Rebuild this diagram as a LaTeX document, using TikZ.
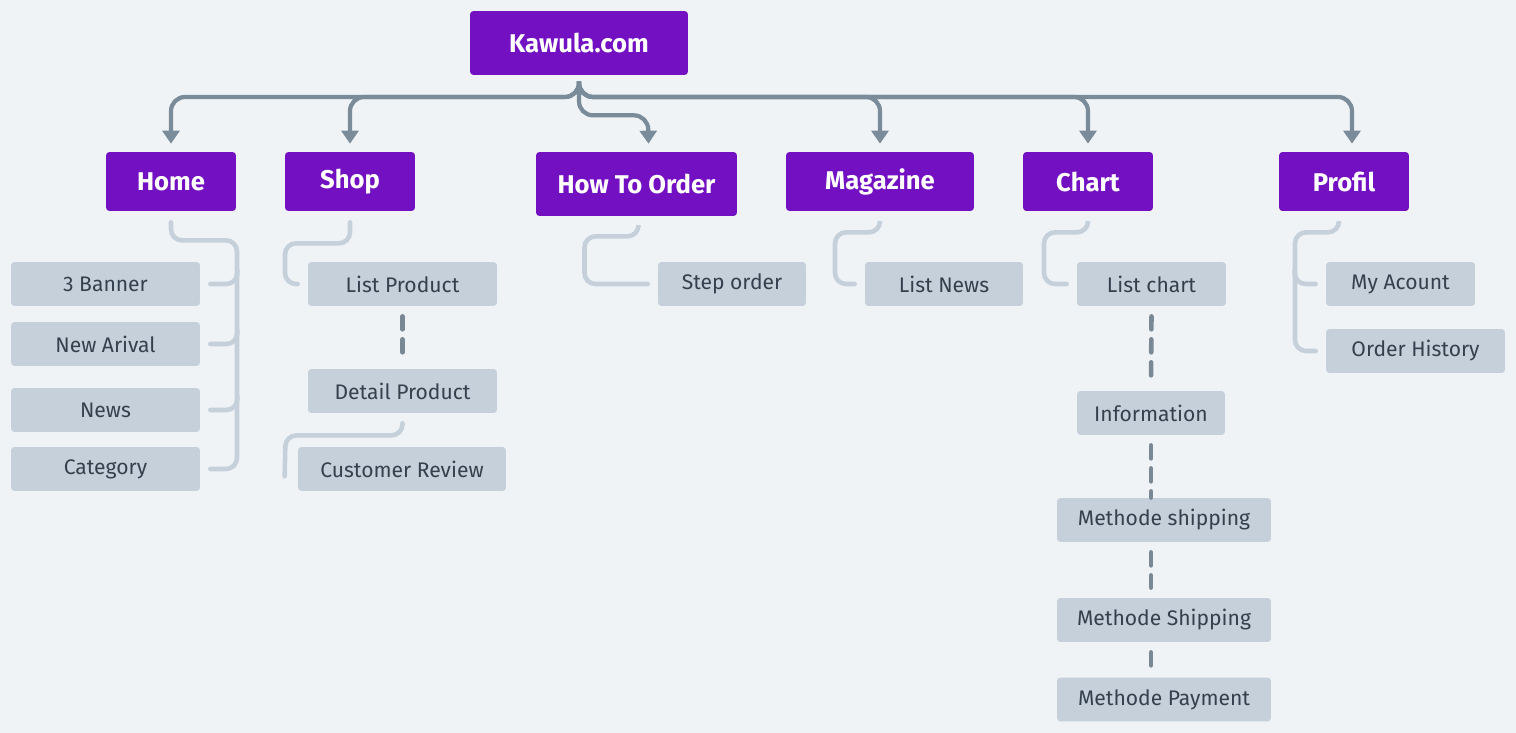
\documentclass[tikz,border=0pt]{standalone}
\usepackage{fontspec}
\setmainfont{Fira Sans}
\usetikzlibrary{arrows.meta,calc}

\definecolor{kbg}{HTML}{EFF3F6}
\definecolor{kpurple}{HTML}{7210C2}
\definecolor{kgray}{HTML}{C5D0DA}
\definecolor{ktext}{HTML}{34404D}
\definecolor{karrow}{HTML}{7A8B99}
\definecolor{kdash}{HTML}{7A8896}

\tikzset{
  topbox/.style={fill=kpurple, text=white, font=\bfseries\fontsize{14.6}{16}\selectfont,
    rounded corners=2pt, minimum height=1.18cm, inner sep=0pt},
  subbox/.style={fill=kgray, text=ktext, font=\fontsize{12}{14}\selectfont,
    rounded corners=2pt, minimum height=0.88cm, inner sep=0pt},
  arr/.style={draw=karrow, line width=2.4pt, rounded corners=0.28cm,
    -{Triangle[width=0.34cm,length=0.26cm]}},
  brace/.style={draw=kgray, line width=2.6pt, rounded corners=0.22cm, line cap=round},
  dots/.style={draw=kdash, line width=2.6pt, line cap=round, dash pattern=on 0.26cm off 0.2cm},
}

\begin{document}
\begin{tikzpicture}[x=0.02cm, y=-0.02cm]
			\fill[kbg] (0,0) rectangle (1516,733);
			\useasboundingbox (0,0) rectangle (1516,733);
			\coordinate (bus) at (0,97);
			% main level
			\node[topbox, minimum width=4.36cm, minimum height=1.28cm] (site) at (579,43) {Kawula.com};
			\node[topbox, minimum width=2.6cm] (home) at (171,181.5) {Home};
			\node[topbox, minimum width=2.6cm] (shop) at (350,181.5) {Shop};
			\node[topbox, minimum width=4.02cm, minimum height=1.28cm] (order) at (636.5,184) {How To Order};
			\node[topbox, minimum width=3.76cm] (mag) at (880,181.5) {Magazine};
			\node[topbox, minimum width=2.6cm] (chart) at (1088,181.5) {Chart};
			\node[topbox, minimum width=2.6cm] (profil) at (1344,181.5) {Profil};
			\draw[arr] ([yshift=-0.12cm]site.south) |- (home.north |- bus) -- ([yshift=0.16cm]home.north);
			\draw[arr] ([yshift=-0.12cm]site.south) |- (shop.north |- bus) -- ([yshift=0.16cm]shop.north);
			\draw[arr] ([yshift=-0.12cm]site.south) |- ++(69,34) -- ([xshift=0.24cm,yshift=0.16cm]order.north);
			\draw[arr] ([yshift=-0.12cm]site.south) |- (mag.north |- bus) -- ([yshift=0.16cm]mag.north);
			\draw[arr] ([yshift=-0.12cm]site.south) |- (chart.north |- bus) -- ([yshift=0.16cm]chart.north);
			\draw[arr] ([yshift=-0.12cm]site.south) |- ($(profil.north |- bus)+(8,0)$) -- ([xshift=0.16cm,yshift=0.16cm]profil.north);
			% home
			\node[subbox, minimum width=3.78cm] (banner) at (105.5,284) {3 Banner};
			\node[subbox, minimum width=3.78cm] (arival) at (105.5,344) {New Arival};
			\node[subbox, minimum width=3.78cm] (news) at (105.5,410) {News};
			\node[subbox, minimum width=3.78cm] (cat) at (105.5,469) {Category};
			\draw[brace] ([yshift=-0.22cm]home.south) |- ++(66,18) |- ([xshift=0.2cm]cat.east);
			\draw[brace] ([xshift=0.2cm]banner.east) -| ++(27,-14);
			\draw[brace] ([xshift=0.2cm]arival.east) -| ++(27,-14);
			\draw[brace] ([xshift=0.2cm]news.east) -| ++(27,-14);
			% shop
			\node[subbox, minimum width=3.78cm] (lprod) at (402.5,284) {List Product};
			\node[subbox, minimum width=3.78cm] (dprod) at (402.5,391) {Detail Product};
			\node[subbox, minimum width=4.16cm] (crev) at (402,469) {Customer Review};
			\draw[brace] ([yshift=-0.22cm]shop.south) |- ++(-65,21) |- ([xshift=-0.2cm]lprod.west);
			\draw[dots] ([yshift=-0.2cm]lprod.south) -- ([yshift=0.2cm]dprod.north);
			\draw[brace] ([yshift=-0.2cm]dprod.south) |- ++(-117,12) -- ([xshift=-0.26cm,yshift=0.3cm]crev.south west);
			% how to order
			\node[subbox, minimum width=2.96cm] (stepo) at (732,284) {Step order};
			\draw[brace] ([xshift=0.04cm,yshift=-0.2cm]order.south) |- ++(-54,10) |- ([xshift=-0.2cm]stepo.west);
			% magazine
			\node[subbox, minimum width=3.16cm] (lnews) at (944,284) {List News};
			\draw[brace] ([yshift=-0.22cm]mag.south) |- ++(-45,10) |- ([xshift=-0.2cm]lnews.west);
			% chart
			\node[subbox, minimum width=2.98cm] (lchart) at (1151.5,284) {List chart};
			\node[subbox, minimum width=2.96cm] (info) at (1151,413) {Information};
			\node[subbox, minimum width=4.28cm] (mship) at (1164,520) {Methode shipping};
			\node[subbox, minimum width=4.28cm] (mship2) at (1164,620) {Methode Shipping};
			\node[subbox, minimum width=4.28cm] (mpay) at (1164,699.5) {Methode Payment};
			\draw[brace] ([yshift=-0.22cm]chart.south) |- ++(-44,10) |- ([xshift=-0.2cm]lchart.west);
			\draw[dots] ([yshift=-0.2cm]lchart.south) -- ([yshift=0.2cm]info.north);
			\draw[dots] ([yshift=-0.2cm]info.south) -- (info.south |- mship.north);
			\draw[dots] ([xshift=-0.26cm,yshift=-0.2cm]mship.south) -- ([xshift=-0.26cm,yshift=0.2cm]mship2.north);
			\draw[dots] ([xshift=-0.26cm,yshift=-0.2cm]mship2.south) -- ([xshift=-0.26cm,yshift=0.2cm]mpay.north);
			% profil
			\node[subbox, minimum width=2.98cm] (myacc) at (1400.5,284) {My Acount};
			\node[subbox, minimum width=3.58cm] (ohist) at (1415.5,351) {Order History};
			\draw[brace] ([xshift=-0.1cm,yshift=-0.22cm]profil.south) |- ++(-44,10) |- ([xshift=-0.2cm]ohist.west);
			\draw[brace] ([xshift=-0.2cm]myacc.west) -| ++(-21,-14);
		\end{tikzpicture}
\end{document}
